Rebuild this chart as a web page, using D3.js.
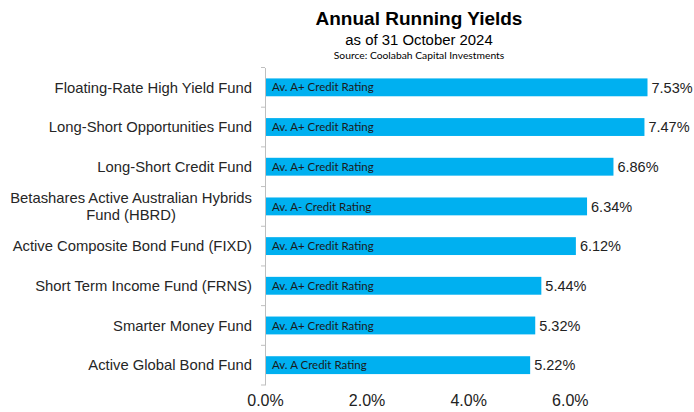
<!DOCTYPE html>
<html>
<head>
<meta charset="utf-8">
<script src="https://cdn.jsdelivr.net/npm/d3@7"></script>
<style>
  html, body { margin: 0; padding: 0; background: #ffffff; }
  svg { display: block; }
</style>
</head>
<body>
<svg id="chart" width="694" height="412"></svg>
<script>
const categories = [
  "Floating-Rate High Yield Fund",
  "Long-Short Opportunities Fund",
  "Long-Short Credit Fund",
  "Betashares Active Australian Hybrids|Fund (HBRD)",
  "Active Composite Bond Fund (FIXD)",
  "Short Term Income Fund (FRNS)",
  "Smarter Money Fund",
  "Active Global Bond Fund"
];
const yields = [7.53, 7.47, 6.86, 6.34, 6.12, 5.44, 5.32, 5.22];
const ratings = [
  "Av. A+ Credit Rating",
  "Av. A+ Credit Rating",
  "Av. A+ Credit Rating",
  "Av. A- Credit Rating",
  "Av. A+ Credit Rating",
  "Av. A+ Credit Rating",
  "Av. A+ Credit Rating",
  "Av. A Credit Rating"
];
const xTicks = [0, 2, 4, 6];

const title = "Annual Running Yields";
const subtitle = "as of 31 October 2024";
const source = "Source: Coolabah Capital Investments";

(function () {
const svg = d3.select("#chart");
const plotLeft = 265;
const plotTop = 67.5, plotBottom = 385;

const x = d3.scaleLinear().domain([0, 7.53]).range([plotLeft, 647.5]);
const y = d3.scaleBand().domain(categories).range([plotTop, plotBottom]).paddingInner(0.55).paddingOuter(0.275);
const yb = d3.scaleBand().domain(categories).range([plotTop, plotBottom]);

// Titles
svg.append("text").attr("x", 419).attr("y", 25).attr("text-anchor", "middle")
  .attr("font-family", "Liberation Sans, Arial, sans-serif").attr("font-weight", "bold")
  .attr("font-size", 19).attr("fill", "#000").text(title);
svg.append("text").attr("x", 419).attr("y", 45).attr("text-anchor", "middle")
  .attr("font-family", "Liberation Sans, Arial, sans-serif")
  .attr("font-size", 14.9).attr("fill", "#000").text(subtitle);
svg.append("text").attr("x", 419).attr("y", 59).attr("text-anchor", "middle")
  .attr("font-family", "Lato, 'Open Sans', sans-serif")
  .attr("font-size", 10.3).attr("fill", "#000").text(source);

// Bars
svg.append("g").selectAll("rect").data(yields).join("rect")
  .attr("x", x(0))
  .attr("y", (d, i) => y(categories[i]))
  .attr("width", d => x(d) - x(0))
  .attr("height", y.bandwidth())
  .attr("fill", "#00B0F0");

// Inside labels
svg.append("g").selectAll("text").data(ratings).join("text")
  .attr("x", x(0) + 7)
  .attr("y", (d, i) => y(categories[i]) + y.bandwidth() / 2)
  .attr("dy", "0.36em")
  .attr("font-family", "Lato, 'Open Sans', sans-serif")
  .attr("font-size", 11.5)
  .attr("fill", "#1a1a1a")
  .text(d => d);

// Value labels
svg.append("g").selectAll("text").data(yields).join("text")
  .attr("x", d => x(d) + 4)
  .attr("y", (d, i) => y(categories[i]) + y.bandwidth() / 2)
  .attr("dy", "0.36em")
  .attr("font-family", "Liberation Sans, Arial, sans-serif")
  .attr("font-size", 14.5)
  .attr("fill", "#222")
  .text(d => d.toFixed(2) + "%");

// Y axis
const yAxis = d3.axisLeft(yb).tickSize(0).tickFormat("");
const gy = svg.append("g").attr("transform", `translate(${plotLeft},0)`).call(yAxis);
gy.select(".domain").attr("stroke", "#bfbfbf").attr("stroke-width", 1);
const bounds = d3.range(categories.length + 1).map(i => plotTop + i * yb.step());
svg.append("g").selectAll("line").data(bounds).join("line")
  .attr("x1", plotLeft - 4).attr("x2", plotLeft)
  .attr("y1", d => d).attr("y2", d => d)
  .attr("stroke", "#bfbfbf").attr("stroke-width", 1);

// Category labels
const catG = svg.append("g");
const catFont = 14.8;
categories.forEach((c, i) => {
  const lines = c.split("|");
  const cy = yb(c) + yb.bandwidth() / 2;
  const lh = 17;
  if (lines.length === 1) {
    catG.append("text").attr("x", 252).attr("y", cy).attr("dy", "0.36em")
      .attr("text-anchor", "end")
      .attr("font-family", "Liberation Sans, Arial, sans-serif")
      .attr("font-size", catFont).attr("fill", "#262626").text(c);
  } else {
    const t1 = catG.append("text").attr("x", 252).attr("y", cy - lh / 2).attr("dy", "0.36em")
      .attr("text-anchor", "end")
      .attr("font-family", "Liberation Sans, Arial, sans-serif")
      .attr("font-size", catFont).attr("fill", "#262626").text(lines[0]);
    const w = t1.node().getComputedTextLength();
    catG.append("text").attr("x", 252 - w / 2).attr("y", cy + lh / 2).attr("dy", "0.36em")
      .attr("text-anchor", "middle")
      .attr("font-family", "Liberation Sans, Arial, sans-serif")
      .attr("font-size", catFont).attr("fill", "#262626").text(lines[1]);
  }
});

// X axis (labels only)
const xAxis = d3.axisBottom(x).tickValues(xTicks).tickSize(0).tickFormat(d => d.toFixed(1) + "%");
const gx = svg.append("g").attr("transform", `translate(0,${plotBottom})`).call(xAxis);
gx.select(".domain").remove();
gx.selectAll("text")
  .attr("y", 21)
  .attr("dy", "0")
  .attr("font-family", "Liberation Sans, Arial, sans-serif")
  .attr("font-size", 16)
  .attr("fill", "#222");
})();
</script>
</body>
</html>
